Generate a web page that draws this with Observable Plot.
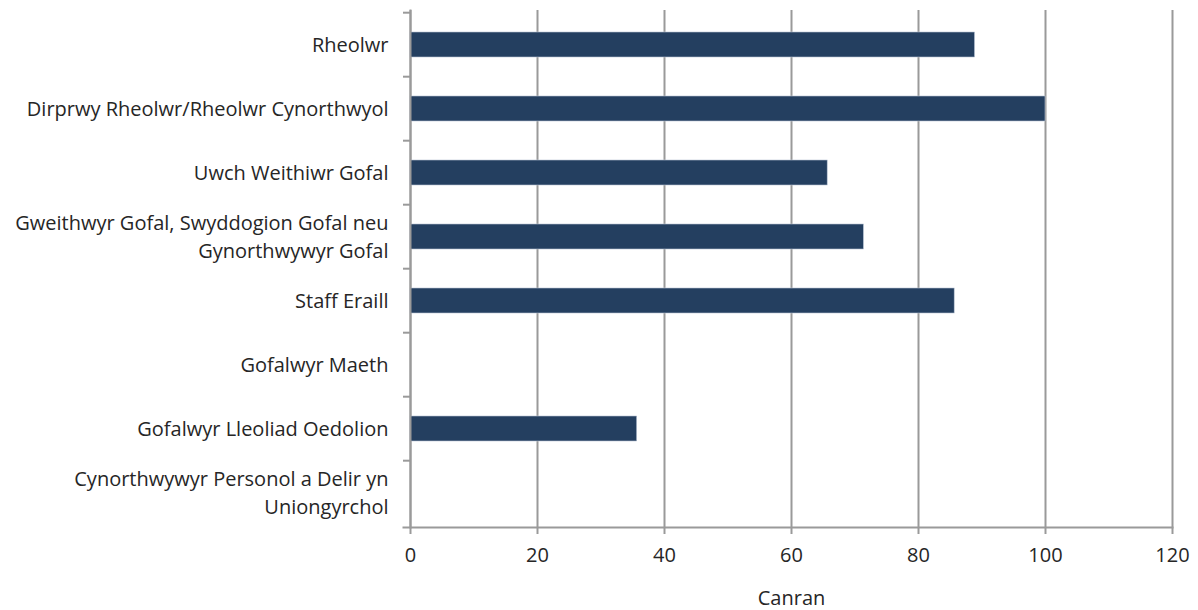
<!DOCTYPE html>
<html>
<head>
<meta charset="utf-8">
<script src="https://cdn.jsdelivr.net/npm/d3@7"></script>
<script src="https://cdn.jsdelivr.net/npm/@observablehq/plot@0.6"></script>
<style>
  html, body { margin: 0; padding: 0; background: #fff; }
  #chart { width: 1198px; height: 610px; }
</style>
</head>
<body>
<div id="chart"></div>
<script>
const categories = [
  "Rheolwr",
  "Dirprwy Rheolwr/Rheolwr Cynorthwyol",
  "Uwch Weithiwr Gofal",
  "Gweithwyr Gofal, Swyddogion Gofal neu Gynorthwywyr Gofal",
  "Staff Eraill",
  "Gofalwyr Maeth",
  "Gofalwyr Lleoliad Oedolion",
  "Cynorthwywyr Personol a Delir yn Uniongyrchol"
];
const categoryLabels = [
  "Rheolwr",
  "Dirprwy Rheolwr/Rheolwr Cynorthwyol",
  "Uwch Weithiwr Gofal",
  "Gweithwyr Gofal, Swyddogion Gofal neu\nGynorthwywyr Gofal",
  "Staff Eraill",
  "Gofalwyr Maeth",
  "Gofalwyr Lleoliad Oedolion",
  "Cynorthwywyr Personol a Delir yn\nUniongyrchol"
];
const values = [88.9, 100, 65.7, 71.4, 85.7, null, 35.7, null];
const xTicks = [0, 20, 40, 60, 80, 100, 120];
const xLabel = "Canran";

const data = categories.map((c, i) => ({category: c, value: values[i]})).filter(d => d.value != null);
const labelOf = new Map(categories.map((c, i) => [c, categoryLabels[i]]));

const W = 1198, H = 610, mt = 10, mb = 83, ml = 410, mr = 26;
const step = (H - mt - mb) / categories.length;
const textColor = "#262626";

const chart = Plot.plot({
  width: W,
  height: H,
  marginTop: mt,
  marginBottom: mb,
  marginLeft: ml,
  marginRight: mr,
  style: {fontFamily: "'Open Sans', 'Noto Sans', sans-serif", fontSize: "20px", color: textColor, background: "#fff"},
  x: {domain: [0, 120], ticks: xTicks},
  y: {domain: categories, paddingInner: 0.61, paddingOuter: 0.305, align: 0.5},
  marks: [
    Plot.gridX(xTicks, {stroke: "#9a9a9a", strokeWidth: 2, strokeOpacity: 1}),
    Plot.barX(data, {x: "value", y: "category", fill: "#243f60", stroke: "#b8c4d4", strokeWidth: 0.6}),
    Plot.frame({anchor: "left", stroke: "#9a9a9a", strokeWidth: 2}),
    Plot.frame({anchor: "bottom", stroke: "#9a9a9a", strokeWidth: 2, insetLeft: -7}),
    Plot.axisY({ticks: categories, tickSize: 7, text: null, dy: -step / 2, stroke: "#9a9a9a", strokeWidth: 2, label: null}),
    Plot.axisY({ticks: categories, tickSize: 0, tickPadding: 22, dy: -2, tickFormat: d => labelOf.get(d), fontSize: 20, fill: textColor, lineHeight: 1.4, label: null}),
    Plot.axisX({ticks: xTicks, tickSize: 7, tickPadding: 13, stroke: "#9a9a9a", strokeWidth: 2, fontSize: 20, fill: textColor, label: xLabel, labelAnchor: "center", labelArrow: "none", labelOffset: 77})
  ]
});
document.getElementById("chart").appendChild(chart);
</script>
</body>
</html>
